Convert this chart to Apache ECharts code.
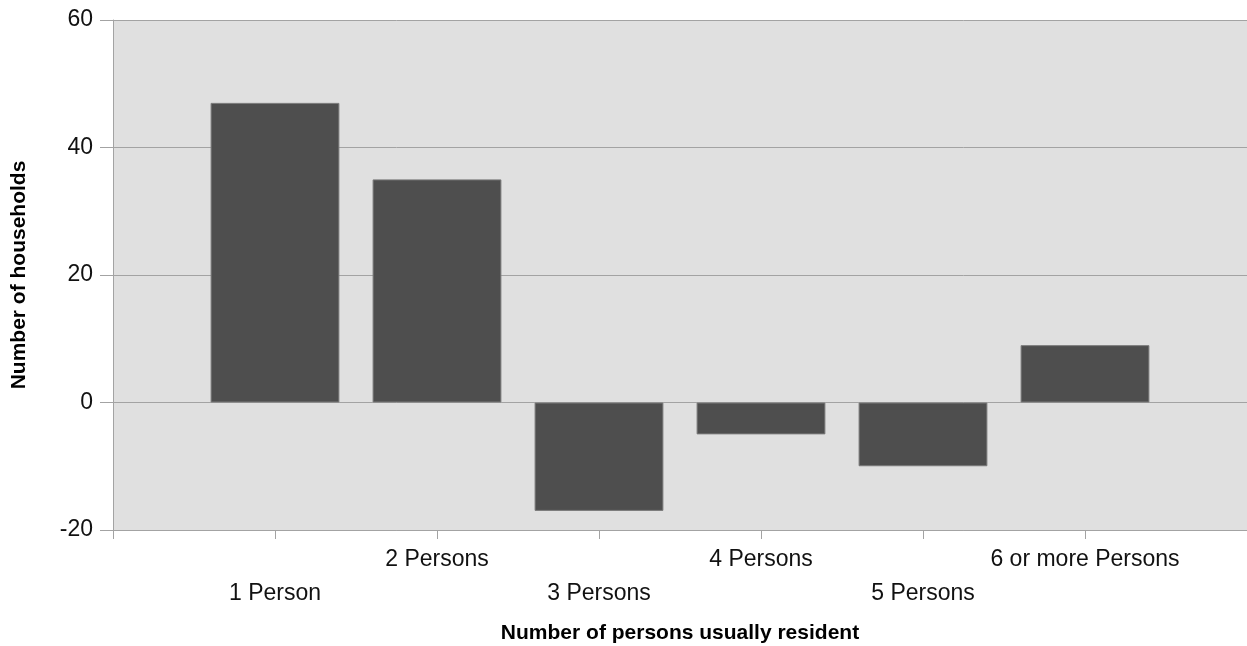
<!DOCTYPE html>
<html>
<head>
<meta charset="utf-8">
<script src="https://cdn.jsdelivr.net/npm/echarts@6/dist/echarts.min.js"></script>
<style>
html,body{margin:0;padding:0;background:#fff;}
#chart{width:1247px;height:646px;}
</style>
</head>
<body>
<div id="chart"></div>
<script>
const categories = ['', '1 Person', '2 Persons', '3 Persons', '4 Persons', '5 Persons', '6 or more Persons', ''];
const households = [null, 47, 35, -17, -5, -10, 9, null];
const yTicks = [-20, 0, 20, 40, 60];

const chart = echarts.init(document.getElementById('chart'));
chart.setOption({
  animation: false,
  grid: {
    left: 113, right: 0, top: 20, bottom: 116,
    containLabel: false,
    outerBoundsMode: 'none',
    show: true, backgroundColor: '#e0e0e0', borderWidth: 0
  },
  xAxis: {
    type: 'category',
    data: categories,
    boundaryGap: false,
    name: 'Number of persons usually resident',
    nameLocation: 'middle',
    nameGap: 93,
    nameTextStyle: { fontFamily: 'Liberation Sans', fontSize: 21, fontWeight: 'bold', color: '#000' },
    axisLine: { onZero: false, lineStyle: { color: '#a3a3a3', width: 1 } },
    axisTick: { show: true, interval: 0, length: 9, lineStyle: { color: '#a3a3a3' } },
    axisLabel: {
      interval: 0,
      margin: 13,
      fontFamily: 'Liberation Sans',
      fontSize: 23,
      lineHeight: 34,
      color: '#111',
      formatter: function (v, i) { return (i % 2 === 1) ? ' \n' + v : v; }
    },
    splitLine: { show: false }
  },
  yAxis: {
    type: 'value',
    min: yTicks[0],
    max: yTicks[yTicks.length - 1],
    interval: 20,
    name: 'Number of households',
    nameLocation: 'middle',
    nameGap: 83,
    nameRotate: 90,
    nameTextStyle: { fontFamily: 'Liberation Sans', fontSize: 21, fontWeight: 'bold', color: '#000' },
    axisLine: { show: true, lineStyle: { color: '#a3a3a3', width: 1 } },
    axisTick: { show: true, length: 13, lineStyle: { color: '#a3a3a3' } },
    axisLabel: { margin: 20, fontFamily: 'Liberation Sans', fontSize: 23, color: '#111' },
    splitLine: { show: true, lineStyle: { color: '#a3a3a3', width: 1 } }
  },
  series: [{
    type: 'bar',
    data: households,
    barWidth: '79.5%',
    itemStyle: { color: '#4e4e4e', borderColor: '#7a7a7a', borderWidth: 1 }
  }]
});
</script>
</body>
</html>
